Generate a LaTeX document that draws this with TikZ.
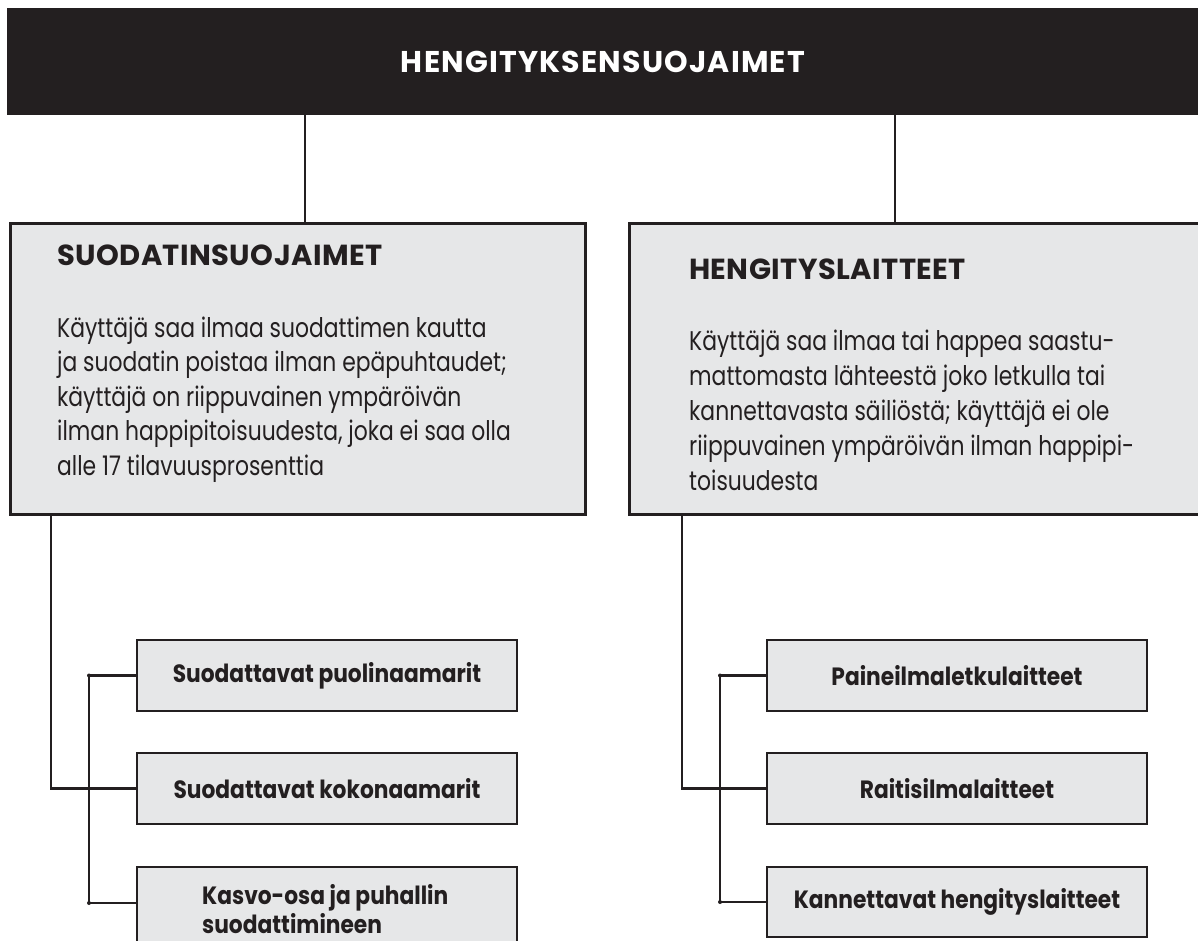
\documentclass[tikz,border=0pt]{standalone}
\usepackage{fontspec}
\setmainfont{Poppins}
\newfontfamily\bodyf{Poppins}[FakeStretch=0.81]
\newfontfamily\headf{Poppins}[LetterSpace=1.5]
\newfontfamily\titlef{Poppins}[LetterSpace=4]
\newfontfamily\subf{Poppins}[FakeStretch=0.87]
\definecolor{ink}{HTML}{231F20}
\definecolor{boxgray}{HTML}{E6E7E8}
\begin{document}
\begin{tikzpicture}[x=1pt,y=-1pt,
  bigbox/.style={draw=ink, line width=2.8pt, fill=boxgray, inner sep=0pt, anchor=north west},
  subbox/.style={draw=ink, line width=2.8pt, fill=boxgray, inner sep=0pt, minimum width=380pt},
  subtext/.style={font=\subf\bfseries\fontsize{25}{30}\selectfont, text=ink, inner sep=0pt},
  bodytext/.style={font=\bodyf\fontsize{27}{34}\selectfont, text=ink, inner sep=0pt, anchor=base west},
  headtext/.style={font=\headf\bfseries\fontsize{29}{30}\selectfont, text=ink, inner sep=0pt, anchor=base west},
  conn/.style={draw=ink, line width=2.3pt},
  jdot/.style={circle, fill=ink, inner sep=0pt, minimum size=4pt}]
\useasboundingbox (0,0) rectangle (1198,940);

% top bar
\node[fill=ink, inner sep=0pt, minimum width=1191pt, minimum height=107pt, anchor=north west] (top) at (7,8) {};
\node[font=\titlef\bfseries\fontsize{30}{30}\selectfont, text=white, inner sep=0pt] (title) at (603,62) {HENGITYKSENSUOJAIMET};

% big boxes
\node[bigbox, minimum width=575pt, minimum height=291pt] (filt) at (9,222) {};
\node[bigbox, minimum width=585pt, minimum height=291pt] (hl) at (628,222) {};

\node[headtext] (filth) at (57,265) {SUODATINSUOJAIMET};
\node[bodytext] (fl1) at (57,337) {Käyttäjä saa ilmaa suodattimen kautta};
\node[bodytext] (fl2) at (57,371.5) {ja suodatin poistaa ilman epäpuhtaudet;};
\node[bodytext] (fl3) at (57,406) {käyttäjä on riippuvainen ympäröivän};
\node[bodytext] (fl4) at (57,440.5) {ilman happipitoisuudesta, joka ei saa olla};
\node[bodytext] (fl5) at (57,475) {alle 17 tilavuusprosenttia};

\node[headtext] (hlh) at (689,279) {HENGITYSLAITTEET};
\node[bodytext] (hl1) at (689,350) {Käyttäjä saa ilmaa tai happea saastu-};
\node[bodytext] (hl2) at (689,385) {mattomasta lähteestä joko letkulla tai};
\node[bodytext] (hl3) at (689,420) {kannettavasta säiliöstä; käyttäjä ei ole};
\node[bodytext] (hl4) at (689,455) {riippuvainen ympäröivän ilman happipi-};
\node[bodytext] (hl5) at (689,490) {toisuudesta};

% sub boxes left
\node[subbox, minimum height=71pt] (b1) at (327,675.5) {};
\node[subtext] (b1t) at (b1.center) {Suodattavat puolinaamarit};
\node[subbox, minimum height=71pt] (b2) at (327,788.5) {};
\node[subtext] (b2t) at (b2.center) {Suodattavat kokonaamarit};
\node[subbox, minimum height=86pt] (b3) at (327,910) {};
\node[subtext, anchor=base west] (b3ta) at (202,904) {Kasvo-osa ja puhallin};
\node[subtext, anchor=base west] (b3tb) at (202,933) {suodattimineen};

% sub boxes right
\node[subbox, minimum height=71pt] (c1) at (957,675.5) {};
\node[subtext] (c1t) at (c1.center) {Paineilmaletkulaitteet};
\node[subbox, minimum height=71pt] (c2) at (957,788.5) {};
\node[subtext] (c2t) at (c2.center) {Raitisilmalaitteet};
\node[subbox, minimum height=70pt] (c3) at (957,902) {};
\node[subtext] (c3t) at (c3.center) {Kannettavat hengityslaitteet};

% connectors top
\coordinate (tl) at (305,0);
\coordinate (tr) at (895,0);
\draw[conn] (tl |- top.south) -- (tl |- filt.north);
\draw[conn] (tr |- top.south) -- (tr |- hl.north);

% left tree
\coordinate (lt) at (51,788.5);
\draw[conn] (lt |- filt.south) -- (lt) -- (b2.west);
\coordinate (lba) at (89,675.5);
\coordinate (lbb) at (89,903);
\draw[conn] (b1.west) -- (lba) -- (lbb) -- (lbb -| b3.west);
\node[jdot] (lda) at (lba) {};
\node[jdot] (ldb) at (lbb) {};

% right tree
\coordinate (rt) at (682,788.5);
\draw[conn] (rt |- hl.south) -- (rt) -- (c2.west);
\coordinate (rba) at (720,675.5);
\coordinate (rbb) at (720,902);
\draw[conn] (c1.west) -- (rba) -- (rbb) -- (c3.west);
\node[jdot] (rda) at (rba) {};
\node[jdot] (rdb) at (rbb) {};
\end{tikzpicture}
\end{document}
